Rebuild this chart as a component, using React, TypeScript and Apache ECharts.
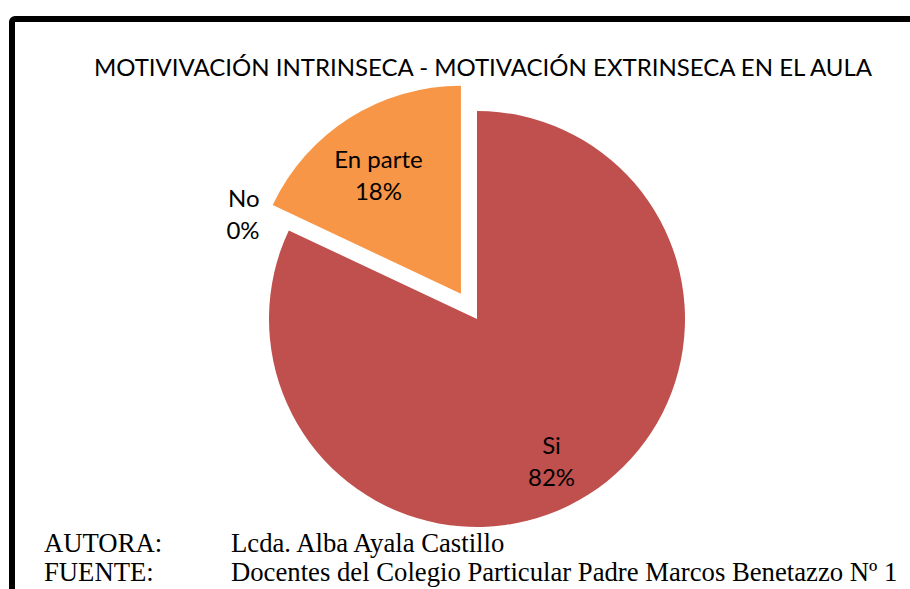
import React, { useEffect, useRef } from 'react';
import * as echarts from 'echarts';

const categories = ['Si', 'No', 'En parte'];
const values = [82, 0, 18];
const colors = ['#C0504D', '#4F81BD', '#F79646'];
const explodedCategory = 'En parte';
const titleText = 'MOTIVIVACIÓN INTRINSECA - MOTIVACIÓN EXTRINSECA EN EL AULA';
const footerLabels = ['AUTORA:', 'FUENTE:'];
const footerValues = [
  'Lcda. Alba Ayala Castillo',
  'Docentes del Colegio Particular Padre Marcos Benetazzo Nº 1',
];

const SANS = 'Lato, Carlito, "Open Sans", sans-serif';
const SERIF = '"Liberation Serif", "Times New Roman", serif';

export default function App() {
  const ref = useRef<HTMLDivElement>(null);

  useEffect(() => {
    if (!ref.current) return;
    const chart = echarts.init(ref.current, undefined, { renderer: 'svg' });
    const center = [477, 319];
    const radius = 208;
    const labelStyle = {
      color: '#000',
      fontFamily: SANS,
      fontSize: 24,
      lineHeight: 32,
      formatter: '{b}\n{d}%',
    };

    const mainData = categories.map((c, i) => ({
      name: c,
      value: values[i],
      selected: c === explodedCategory,
      itemStyle: { color: colors[i] },
      label:
        values[i] === 0
          ? { show: true, position: 'outside', ...labelStyle, align: 'center' }
          : { show: false },
      labelLine: values[i] === 0 ? { show: false, length: 40, length2: 0 } : { show: false },
    }));

    const overlayData = categories.map((c, i) => ({
      name: c,
      value: values[i],
      selected: c === explodedCategory,
      itemStyle: { color: 'rgba(0,0,0,0)' },
      label: { show: values[i] !== 0 },
    }));

    chart.setOption({
      animation: false,
      backgroundColor: '#fff',
      graphic: [
        {
          type: 'rect',
          shape: { x: 12, y: 19, width: 1000, height: 700, r: 3 },
          style: { fill: 'none', stroke: '#000', lineWidth: 6 },
          silent: true,
        },
        {
          type: 'text',
          x: 483,
          y: 66,
          style: {
            text: titleText,
            fill: '#000',
            font: `24px ${SANS}`,
            textAlign: 'center',
            textVerticalAlign: 'middle',
          },
        },
        ...footerLabels.flatMap((lab, i) => [
          {
            type: 'text',
            x: 44,
            y: 543 + i * 29,
            style: {
              text: lab,
              fill: '#000',
              font: `26.7px ${SERIF}`,
              textAlign: 'left',
              textVerticalAlign: 'middle',
            },
          },
          {
            type: 'text',
            x: 231,
            y: 543 + i * 29,
            style: {
              text: footerValues[i],
              fill: '#000',
              font: `26.7px ${SERIF}`,
              textAlign: 'left',
              textVerticalAlign: 'middle',
            },
          },
        ]),
      ],
      series: [
        {
          type: 'pie',
          center,
          radius,
          startAngle: 90,
          clockwise: true,
          selectedMode: 'single',
          selectedOffset: 30,
          avoidLabelOverlap: false,
          percentPrecision: 0,
          emphasis: { disabled: true },
          label: { show: false },
          labelLine: { show: false },
          labelLayout: { dx: 12 },
          data: mainData,
        },
        {
          type: 'pie',
          center,
          radius: 302,
          startAngle: 90,
          clockwise: true,
          selectedMode: 'single',
          selectedOffset: 30,
          silent: true,
          avoidLabelOverlap: false,
          percentPrecision: 0,
          emphasis: { disabled: true },
          label: { position: 'inside', ...labelStyle },
          labelLine: { show: false },
          labelLayout: (p: any) => (p.dataIndex === 0 ? { dx: -8, dy: 11 } : { dy: 11 }),
          data: overlayData,
        },
      ],
    });
    return () => chart.dispose();
  }, []);

  return (
    <div
      ref={ref}
      style={{ position: 'absolute', left: 0, top: 0, width: 910, height: 589 }}
    />
  );
}
